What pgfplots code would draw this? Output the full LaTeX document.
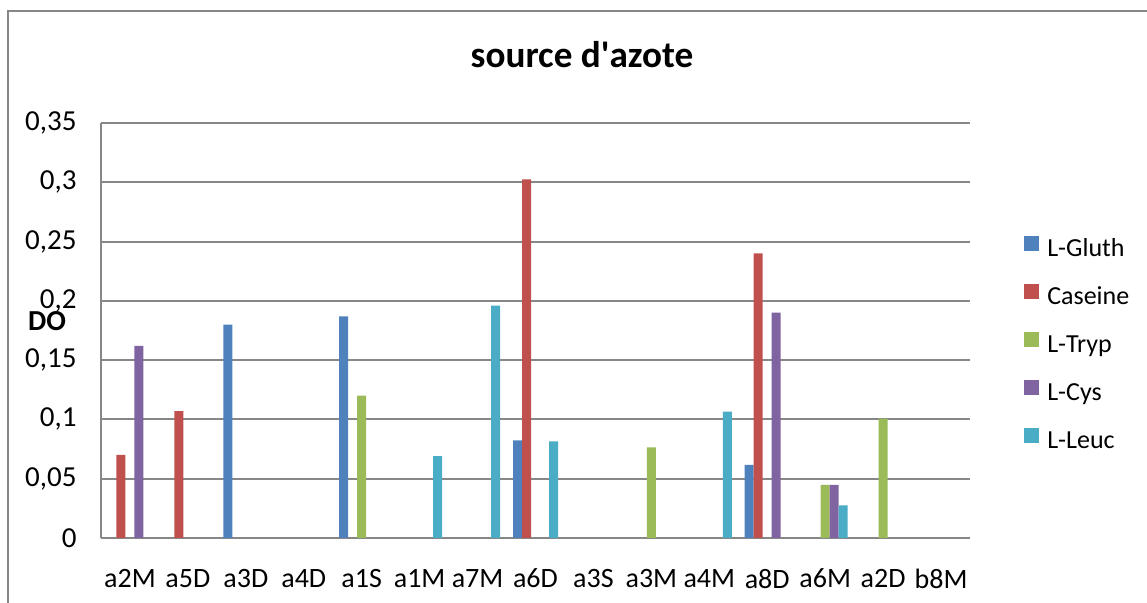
\documentclass[border=0pt]{standalone}
\usepackage{fontspec}
\setmainfont{Carlito}
\usepackage{pgfplots}
\pgfplotsset{compat=1.18}
\definecolor{cblue}{HTML}{4F81BD}
\definecolor{cred}{HTML}{C0504D}
\definecolor{cgreen}{HTML}{9BBB59}
\definecolor{cpurple}{HTML}{8064A2}
\definecolor{ccyan}{HTML}{4BACC6}
\definecolor{gridgray}{HTML}{878787}
\begin{document}
\begin{tikzpicture}
\useasboundingbox (-50.5pt,-32.5pt) rectangle (523pt,269pt);
\draw[gridgray, line width=1pt] (-46.5pt,-40pt) -- (-46.5pt,263.5pt) -- (540pt,263.5pt);
\begin{axis}[
  scale only axis, width=434.5pt, height=207.5pt,
  ybar=0pt, bar width=4.5pt,
  xmin=-0.5, xmax=14.5, ymin=0, ymax=0.35,
  xtick={0,1,2,3,4,5,6,7,8,9,10,11,12,13,14},
  xticklabels={a2M,a5D,a3D,a4D,a1S,a1M,a7M,a6D,a3S,a3M,a4M,a8D,a6M,a2D,b8M},
  ytick={0,0.05,0.1,0.15,0.2,0.25,0.3,0.35},
  yticklabels={0,{0,05},{0,1},{0,15},{0,2},{0,25},{0,3},{0,35}},
  ymajorgrids, grid style={gridgray, line width=1pt},
  axis x line*=bottom, axis y line*=left,
  axis line style={gridgray, line width=1pt, -},
  major tick length=0pt,
  tick label style={text=black},
  xticklabel style={font=\fontsize{14}{16}\selectfont, yshift=-12pt},
  yticklabel style={font=\fontsize{14.5}{16}\selectfont, xshift=-8.7pt},
  title={source d\textquotesingle azote},
  title style={font=\bfseries\fontsize{18.6}{22}\selectfont, at={(0.5535,1.135)}, anchor=center},
  ylabel={DO},
  ylabel style={rotate=-90, at={(-0.0621,0.522)}, anchor=center, font=\bfseries\fontsize{14.5}{16}\selectfont},
  legend style={draw=none, fill=none, at={(1.062,0.465)}, anchor=west,
    font=\fontsize{13}{15}\selectfont, inner sep=0pt,
    nodes={text height=9pt, text depth=3pt, inner ysep=0pt}, row sep=10.5pt,
    /tikz/every odd column/.append style={column sep=2pt}},
  legend cell align=left,
  legend image code/.code={\fill[#1] (0pt,0pt) rectangle (7.5pt,7.5pt);},
]
\addplot[fill=cblue, draw=none] coordinates {(2,0.18) (4,0.187) (7,0.0824) (11,0.0616)};
\addplot[fill=cred, draw=none] coordinates {(0,0.07) (1,0.107) (7,0.3025) (11,0.24)};
\addplot[fill=cgreen, draw=none] coordinates {(4,0.12) (9,0.0765) (12,0.0447) (13,0.1006)};
\addplot[fill=cpurple, draw=none] coordinates {(0,0.162) (11,0.19) (12,0.0447)};
\addplot[fill=ccyan, draw=none] coordinates {(5,0.069) (6,0.196) (7,0.0815) (10,0.1065) (12,0.0276)};
\legend{L-Gluth,Caseine,L-Tryp,L-Cys,L-Leuc}
\end{axis}
\end{tikzpicture}
\end{document}
